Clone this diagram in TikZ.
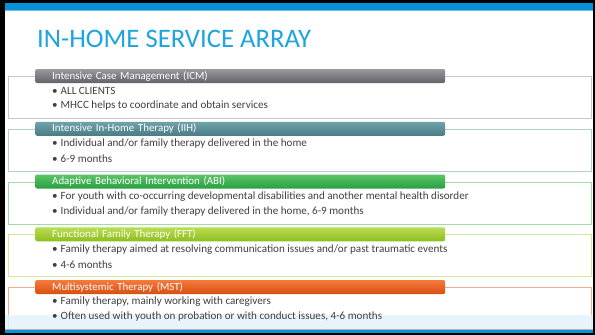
\documentclass[tikz,border=0pt]{standalone}
\usepackage{fontspec}
\setmainfont{Carlito}
\usepackage{xcolor}
\usetikzlibrary{positioning}

\definecolor{titleblue}{RGB}{30,164,222}
\definecolor{barblue}{RGB}{8,146,214}
\definecolor{bandblue}{RGB}{228,243,251}
\definecolor{textgray}{RGB}{64,64,64}
\definecolor{icmtop}{RGB}{152,152,158}
\definecolor{icmbot}{RGB}{98,98,106}
\definecolor{icmline}{RGB}{200,200,200}
\definecolor{iihtop}{RGB}{112,162,170}
\definecolor{iihbot}{RGB}{74,124,134}
\definecolor{iihline}{RGB}{178,206,212}
\definecolor{abitop}{RGB}{92,196,102}
\definecolor{abibot}{RGB}{40,160,66}
\definecolor{abiline}{RGB}{160,220,166}
\definecolor{ffttop}{RGB}{186,222,82}
\definecolor{fftbot}{RGB}{140,190,30}
\definecolor{fftline}{RGB}{212,232,152}
\definecolor{msttop}{RGB}{246,122,62}
\definecolor{mstbot}{RGB}{214,80,16}
\definecolor{mstline}{RGB}{240,172,142}

\begin{document}
\begin{tikzpicture}[x=1pt, y=-1pt,
        panel/.style={rectangle, draw, line width=0.8pt, fill=white, minimum width=583pt, minimum height=42pt, anchor=north west},
        header/.style={rectangle, rounded corners=2pt, text width=376pt, minimum height=14pt, inner xsep=17pt, inner ysep=0pt, align=left, text=white, font=\fontsize{10.9}{12}\selectfont},
        item/.style={anchor=west, inner sep=0pt, text=textgray, font=\fontsize{11.1}{13}\selectfont}
    ]
        \useasboundingbox (0,0) rectangle (595,335);
        % Slide frame
        \fill[black] (0,0) rectangle (595,335);
        \fill[white] (5,3) rectangle (593,333);
        \fill[barblue] (5,3) rectangle (593,10);
        \fill[barblue!60] (5,10) rectangle (593,11);
        \node[anchor=base west, inner sep=0pt, text=titleblue, font=\fontsize{26.7}{30}\selectfont] (title) at (37,47) {IN-HOME SERVICE ARRAY};
        
        % Intensive Case Management
        \node[panel, draw=icmline] (icmbox) at (8,76) {};
        \node[header, top color=icmtop, bottom color=icmbot, right=27pt of icmbox.north west] (icm) {Intensive Case Management (ICM)};
        \node[item] (icm1) at ([shift={(44,15)}]icmbox.north west) {\textbullet\hspace{3pt}ALL CLIENTS};
        \node[item] (icm2) at ([shift={(44,30)}]icmbox.north west) {\textbullet\hspace{3pt}MHCC helps to coordinate and obtain services};
        
        % Intensive In-Home Therapy
        \node[panel, draw=iihline] (iihbox) at (8,128.75) {};
        \node[header, top color=iihtop, bottom color=iihbot, right=27pt of iihbox.north west] (iih) {Intensive In-Home Therapy (IIH)};
        \node[item] (iih1) at ([shift={(44,15)}]iihbox.north west) {\textbullet\hspace{3pt}Individual and/or family therapy delivered in the home};
        \node[item] (iih2) at ([shift={(44,30)}]iihbox.north west) {\textbullet\hspace{3pt}6-9 months};
        
        % Adaptive Behavioral Intervention
        \node[panel, draw=abiline] (abibox) at (8,181.5) {};
        \node[header, top color=abitop, bottom color=abibot, right=27pt of abibox.north west] (abi) {Adaptive Behavioral Intervention (ABI)};
        \node[item] (abi1) at ([shift={(44,15)}]abibox.north west) {\textbullet\hspace{3pt}For youth with co-occurring developmental disabilities and another mental health disorder};
        \node[item] (abi2) at ([shift={(44,30)}]abibox.north west) {\textbullet\hspace{3pt}Individual and/or family therapy delivered in the home, 6-9 months};
        
        % Functional Family Therapy
        \node[panel, draw=fftline] (fftbox) at (8,234.25) {};
        \node[header, top color=ffttop, bottom color=fftbot, right=27pt of fftbox.north west] (fft) {Functional Family Therapy (FFT)};
        \node[item] (fft1) at ([shift={(44,15)}]fftbox.north west) {\textbullet\hspace{3pt}Family therapy aimed at resolving communication issues and/or past traumatic events};
        \node[item] (fft2) at ([shift={(44,30)}]fftbox.north west) {\textbullet\hspace{3pt}4-6 months};
        
        % Multisystemic Therapy
        \node[panel, draw=mstline] (mstbox) at (8,287) {};
        \fill[bandblue, opacity=0.85] (5,315) rectangle (593,329);
        \node[header, top color=msttop, bottom color=mstbot, right=27pt of mstbox.north west] (mst) {Multisystemic Therapy (MST)};
        \node[item] (mst1) at ([shift={(44,15)}]mstbox.north west) {\textbullet\hspace{3pt}Family therapy, mainly working with caregivers};
        \node[item] (mst2) at ([shift={(44,30)}]mstbox.north west) {\textbullet\hspace{3pt}Often used with youth on probation or with conduct issues, 4-6 months};
        
        % Bottom bar
        \fill[gray!60] (5,329) rectangle (593,330);
        \fill[barblue] (5,330) rectangle (593,333);
    \end{tikzpicture}
\end{document}
